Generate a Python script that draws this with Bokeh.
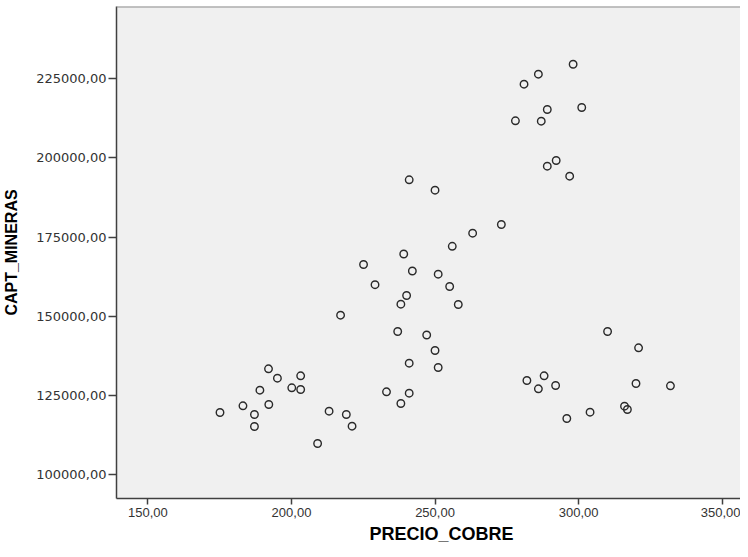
from bokeh.plotting import figure
from bokeh.models import Range1d, FixedTicker, CustomJSTickFormatter, Span, Title
from bokeh.embed import file_html
from bokeh.resources import INLINE

# Data
precio_cobre = [
    175.1, 183.1, 187.1, 187.1, 189.0, 192.0, 192.1, 195.1, 200.1, 203.2,
    203.2, 209.1, 213.1, 219.1, 221.1,
    217.1, 225.1, 229.1, 239.1, 242.1, 240.1, 238.1, 237.0, 247.1, 250.0,
    251.1, 241.0, 233.1, 241.0, 238.1, 251.1, 255.1, 258.1, 256.0, 263.1,
    273.1, 241.0, 250.0,
    298.1, 286.0, 281.0, 289.1, 301.1, 278.0, 287.0, 292.2, 289.1, 296.9,
    310.1, 320.9, 282.0, 288.0, 286.0, 292.0, 320.0, 332.0, 316.0, 317.0,
    304.0, 295.9,
]
capt_mineras = [
    119650, 121760, 119020, 115230, 126680, 133430, 122170, 130470, 127440, 131220,
    126900, 109870, 120060, 119020, 115330,
    150340, 166330, 159960, 169640, 164280, 156550, 153810, 145200, 144090, 139200,
    133840, 135200, 126180, 125740, 122490, 163270, 159390, 153710, 172070, 176200,
    178950, 193040, 189760,
    229500, 226350, 223200, 215220, 215850, 211650, 211530, 199130, 197330, 194180,
    145200, 140060, 129740, 131220, 127120, 128170, 128800, 128070, 121640, 120600,
    119740, 117760,
]
x_ticks = [150, 200, 250, 300, 350]
y_ticks = [100000, 125000, 150000, 175000, 200000, 225000]

X_START, X_END = 139.05, 356.4
Y_START, Y_END = 92525, 247709

p = figure(width=740, height=549, output_backend="svg", toolbar_location=None,
           x_range=Range1d(X_START, X_END), y_range=Range1d(Y_START, Y_END),
           min_border_left=105, min_border_right=0, min_border_top=6,
           min_border_bottom=51)
p.background_fill_color = "#f0f0f0"
p.border_fill_color = "white"
p.outline_line_color = None
p.grid.visible = False

p.scatter(precio_cobre, capt_mineras, size=7.5, marker="circle",
          fill_color=None, line_color="#2a2a2a", line_width=1.4)

fmt = CustomJSTickFormatter(code="return tick.toFixed(2).replace('.', ',');")
for ax, ticks in ((p.xaxis[0], x_ticks), (p.yaxis[0], y_ticks)):
    ax.ticker = FixedTicker(ticks=ticks)
    ax.formatter = fmt
    ax.minor_tick_line_color = None
    ax.major_tick_in = 0
    ax.axis_line_color = "#404040"
    ax.axis_line_width = 1.5
    ax.major_tick_line_color = "#404040"
    ax.major_tick_line_width = 1.5
    ax.major_label_text_font = "Liberation Sans"
    ax.major_label_text_font_size = "13px"
    ax.major_label_text_color = "#333333"

p.yaxis[0].major_label_text_font = "DejaVu Sans"
p.yaxis[0].major_tick_out = 8
p.yaxis[0].major_label_standoff = 2
p.xaxis[0].major_tick_out = 6
p.xaxis[0].major_label_standoff = 3

p.yaxis[0].axis_label = "CAPT_MINERAS"
p.yaxis[0].axis_label_text_font = "Liberation Sans"
p.yaxis[0].axis_label_text_font_style = "bold"
p.yaxis[0].axis_label_text_font_size = "16px"
p.yaxis[0].axis_label_text_color = "black"
p.yaxis[0].axis_label_standoff = 13

p.add_layout(Span(location=Y_END, dimension="width", line_color="#8c8c8c",
                  line_width=2))

xtitle = Title(text="PRECIO_COBRE", align="left", offset=253,
               text_font="Liberation Sans", text_font_style="bold",
               text_font_size="18px", text_color="black", standoff=4)
p.add_layout(xtitle, "below")

open("out.html", "w").write(file_html(p, INLINE))
